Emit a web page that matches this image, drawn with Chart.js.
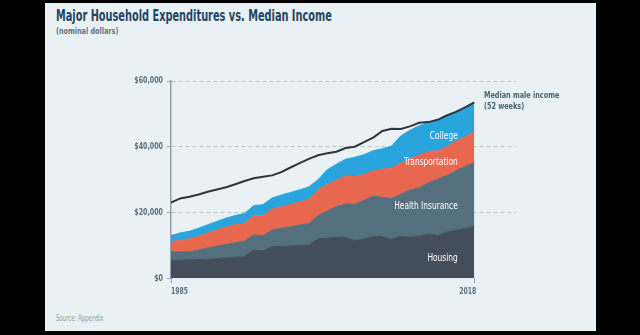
<!doctype html>
<html lang="en">
<head>
<meta charset="utf-8" />
<title>Major Household Expenditures vs. Median Income</title>
<script src="https://cdn.jsdelivr.net/npm/chart.js@4"></script>
<style>
  html, body { margin: 0; padding: 0; background: #000; }
  body { width: 640px; height: 335px; position: relative; overflow: hidden;
    font-family: "Liberation Sans Narrow", "DejaVu Sans Condensed", sans-serif; }
  .panel { position: absolute; left: 45px; top: 3px; width: 551px; height: 328px; background: #e9f1f5; }
  .txt { position: absolute; left: 56px; white-space: nowrap; transform-origin: 0 0; }
  .title { top: 6px; font-size: 16px; font-weight: 700; color: #1f4660; transform: scaleX(0.68); }
  .sub { top: 26px; font-size: 9px; font-weight: 700; color: #607584; transform: scaleX(0.8); }
  .source { top: 314px; font-size: 8px; color: #8d9ca6; transform: scaleX(0.75); }
  .wrap { position: absolute; left: 0; top: 0; width: 640px; height: 335px; }
</style>
</head>
<body>
  <div class="panel"></div>
  <div class="txt title">Major Household Expenditures vs. Median Income</div>
  <div class="txt sub">(nominal dollars)</div>
  <div class="txt source">Source: Appendix</div>
  <div class="wrap"><canvas id="chart" width="640" height="335"></canvas></div>

<script>
const FONT = '"Liberation Sans Narrow", "DejaVu Sans Condensed", sans-serif';

const years = [1985, 1986, 1987, 1988, 1989, 1990, 1991, 1992, 1993, 1994, 1995, 1996,
  1997, 1998, 1999, 2000, 2001, 2002, 2003, 2004, 2005, 2006, 2007, 2008, 2009, 2010,
  2011, 2012, 2013, 2014, 2015, 2016, 2017, 2018];

// stacked layers, dollars per year
const housing = [5400, 5500, 5600, 5700, 5800, 6000, 6200, 6400, 6600, 8600, 8300, 9600,
  9700, 9800, 10000, 10100, 12000, 12200, 12400, 12500, 11400, 12000, 12700, 12700, 11900, 12700,
  12600, 12700, 13500, 13000, 14000, 14600, 15100, 15700];
const healthInsurance = [2600, 2550, 2500, 2900, 3400, 3800, 4100, 4400, 4700, 4600, 4600, 5100,
  5500, 5900, 6200, 6600, 7000, 8300, 9400, 10100, 11100, 11700, 12300, 11900, 12400, 12800,
  14200, 14800, 15500, 17100, 17200, 18100, 18900, 19500];
const transportation = [3100, 3550, 3900, 4200, 4500, 4900, 5300, 5500, 5400, 5800, 6100, 6300,
  6500, 6700, 7000, 7300, 7900, 8000, 8000, 8500, 8400, 7900, 7600, 8600, 9200, 9500,
  9500, 10000, 9500, 8700, 8800, 8900, 9000, 9400];
const college = [1900, 2200, 2300, 2400, 2600, 2600, 2700, 2800, 3000, 3100, 3400, 3400,
  3600, 3700, 3700, 3800, 3100, 4500, 4900, 5100, 5900, 6000, 6200, 6200, 6700, 8300,
  8700, 8900, 8900, 9400, 9200, 8900, 8900, 8700];

const medianMaleIncome = [23000, 24300, 24800, 25500, 26300, 27000, 27700, 28600, 29600, 30400, 30900, 31300,
  32300, 33700, 35000, 36300, 37400, 38000, 38500, 39600, 40000, 41400, 42800, 44800, 45500, 45400,
  46200, 47300, 47500, 48200, 49500, 50600, 52000, 53500];

const yTicks = [0, 20000, 40000, 60000];
const xLabels = [1985, 2018];

const colors = {
  housing: "#444e5b",
  health: "#54707e",
  transport: "#e8674f",
  college: "#2aa4dc",
  line: "#2f353e",
  axis: "#8fa3af",
  grid: "#b9c6ce",
  tick: "#5b6e7b",
};

// in-area labels: right edge at year, vertical centre at value
const areaLabels = [
  { text: "College", year: 2016.2, value: 43100 },
  { text: "Transportation", year: 2016.2, value: 35300 },
  { text: "Health Insurance", year: 2016.2, value: 21800 },
  { text: "Housing", year: 2016.2, value: 6000 },
];
const incomeLabel = ["Median male income", "(52 weeks)"];

const pts = (arr) => arr.map((v, i) => ({ x: years[i], y: v }));

function area(label, data, color, fill) {
  return {
    label, data: pts(data), fill,
    backgroundColor: color, borderColor: color, borderWidth: 1,
    pointRadius: 0, tension: 0, stack: "spend", order: 2,
  };
}

// condensed text: the original face is a narrow grotesque
function narrowText(ctx, text, x, y, align, font, sx) {
  ctx.save();
  ctx.translate(x, y);
  ctx.scale(sx, 1);
  ctx.font = font;
  ctx.textAlign = align;
  ctx.fillText(text, 0, 0);
  ctx.restore();
}

const labelPlugin = {
  id: "labels",
  afterDatasetsDraw(chart) {
    const { ctx, scales: { x, y } } = chart;
    ctx.save();
    ctx.textBaseline = "middle";

    ctx.fillStyle = "#ffffff";
    for (const l of areaLabels) {
      narrowText(ctx, l.text, x.getPixelForValue(l.year), y.getPixelForValue(l.value),
        "right", "10px " + FONT, 0.83);
    }

    ctx.fillStyle = "#4b6372";
    const lx = x.getPixelForValue(2019.05);
    narrowText(ctx, incomeLabel[0], lx, y.getPixelForValue(55500), "left", "bold 9.5px " + FONT, 0.76);
    narrowText(ctx, incomeLabel[1], lx, y.getPixelForValue(52100), "left", "bold 9.5px " + FONT, 0.76);

    ctx.fillStyle = colors.tick;
    for (const v of yTicks) {
      narrowText(ctx, "$" + v.toLocaleString("en-US"), x.left - 8, y.getPixelForValue(v),
        "right", "bold 9px " + FONT, 0.78);
    }
    const by = y.getPixelForValue(0) + 13;
    narrowText(ctx, String(xLabels[0]), x.getPixelForValue(xLabels[0]), by, "left", "bold 9px " + FONT, 0.76);
    narrowText(ctx, String(xLabels[1]), x.getPixelForValue(xLabels[1]) + 2, by, "right", "bold 9px " + FONT, 0.76);
    ctx.restore();
  },
};

new Chart(document.getElementById("chart"), {
  type: "line",
  data: {
    datasets: [
      {
        label: "Median male income", data: pts(medianMaleIncome), fill: false,
        borderColor: colors.line, borderWidth: 2, pointRadius: 0, tension: 0,
        stack: "income", order: 0,
      },
      area("Housing", housing, colors.housing, "origin"),
      area("Health Insurance", healthInsurance, colors.health, "-1"),
      area("Transportation", transportation, colors.transport, "-1"),
      area("College", college, colors.college, "-1"),
    ],
  },
  options: {
    responsive: false,
    animation: false,
    layout: { padding: { left: 0, right: 124, top: 81, bottom: 0 } },
    plugins: { legend: { display: false }, tooltip: { enabled: false } },
    scales: {
      x: {
        type: "linear", min: 1985, max: 2022.54,
        afterBuildTicks: (s) => { s.ticks = xLabels.map((v) => ({ value: v })); },
        afterFit: (s) => { s.height = 56.7; },
        ticks: { display: false },
        grid: { drawOnChartArea: false, drawTicks: true, tickLength: 5, tickColor: colors.axis },
        border: { display: false },
      },
      y: {
        stacked: true, min: 0, max: 60000,
        afterBuildTicks: (s) => { s.ticks = yTicks.map((v) => ({ value: v })); },
        afterFit: (s) => { s.width = 171; },
        ticks: { display: false },
        grid: {
          color: (c) => (c.tick && c.tick.value === 0 ? "rgba(0,0,0,0)" : colors.grid),
          lineWidth: 1, tickLength: 4, tickColor: colors.axis,
        },
        border: { display: true, color: colors.axis, width: 1.5, dash: [4, 3] },
      },
    },
  },
  plugins: [labelPlugin],
});
</script>
</body>
</html>
